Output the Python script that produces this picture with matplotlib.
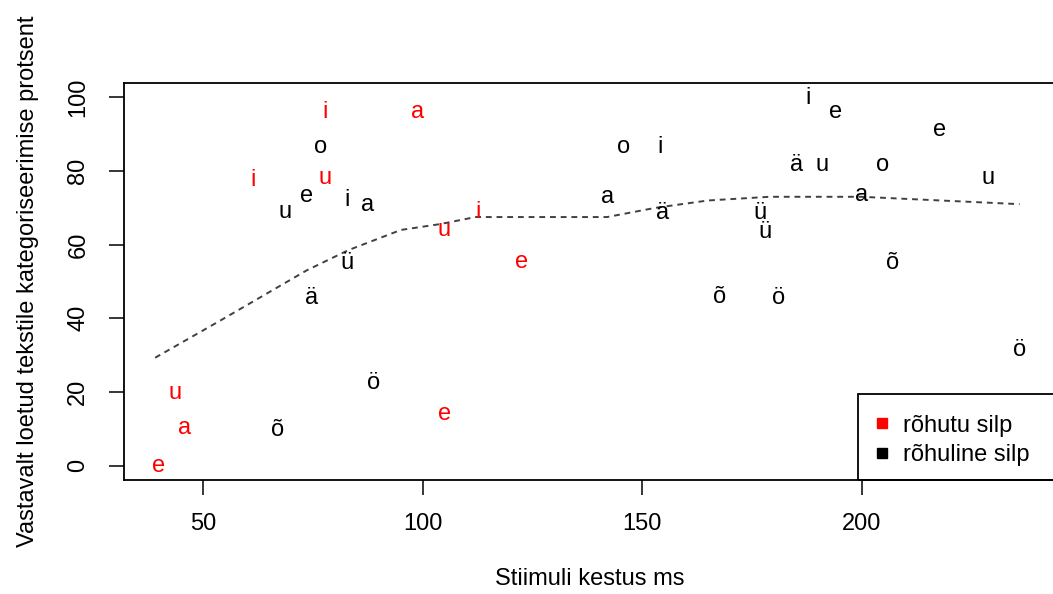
import numpy as np
import matplotlib.pyplot as plt
from matplotlib.lines import Line2D
from matplotlib.patches import Rectangle

plt.rcParams['font.family'] = ['Liberation Sans', 'DejaVu Sans']

# unstressed syllables (red)
red_lbl = ['e', 'a', 'u', 'i', 'i', 'u', 'a', 'u', 'i', 'e', 'e']
red_x = [39.7, 45.8, 43.5, 61.4, 77.7, 77.7, 98.9, 104.9, 112.6, 122.6, 104.9]
red_y = [0.0, 10.2, 19.7, 77.5, 96.0, 78.2, 96.0, 64.0, 68.8, 55.2, 14.0]

# stressed syllables (black)
blk_lbl = ['o', 'u', 'e', 'i', 'a', 'ü', 'ä', 'ö', 'õ', 'a', 'o', 'i', 'ä', 'ü',
           'ü', 'õ', 'ö', 'ö', 'õ', 'i', 'e', 'ä', 'u', 'o', 'e', 'u', 'a']
blk_x = [76.6, 68.6, 73.6, 82.7, 87.5, 82.7, 74.7, 88.7, 66.8, 142.0, 145.7, 154.1, 154.7, 176.8,
         177.9, 167.7, 181.0, 236.1, 207.1, 187.8, 194.0, 185.2, 190.9, 204.8, 217.8, 228.8, 200.1]
blk_y = [86.5, 68.8, 73.1, 72.0, 70.7, 55.0, 45.5, 22.4, 9.6, 72.9, 86.5, 86.5, 68.5, 68.5,
         63.4, 45.8, 45.5, 31.3, 55.0, 99.7, 96.0, 81.6, 81.6, 81.6, 91.1, 78.1, 73.4]

# smoothed trend (dashed)
fit_x = [39, 54, 73.5, 83, 95, 104, 112, 142, 153, 165, 179, 200, 236]
fit_y = [29.3, 39.5, 53, 58.5, 64, 65.6, 67.5, 67.5, 70, 72, 73, 73, 71]

FS = 17

fig = plt.figure(figsize=(10.53, 5.94), dpi=100)
ax = fig.add_axes([124/1053, 114/594, 932/1053, 397/594])

for l, x, y in zip(red_lbl, red_x, red_y):
    ax.text(x, y, l, color='red', fontsize=FS, ha='center', va='center')
for l, x, y in zip(blk_lbl, blk_x, blk_y):
    ax.text(x, y, l, color='black', fontsize=FS, ha='center', va='center')

ax.plot(fit_x, fit_y, color='#404040', lw=1.4, dashes=(3, 2.5))

ax.set_xlim(31.9, 244.3)
ax.set_ylim(-3.9, 103.9)
ax.set_xticks([50, 100, 150, 200])
ax.set_yticks([0, 20, 40, 60, 80, 100])
ax.tick_params(length=11, width=1.1, labelsize=FS)
ax.tick_params(axis='x', pad=12.5)
ax.tick_params(axis='y', labelrotation=90, pad=14)
for t in ax.get_yticklabels():
    t.set_va('center')
for s in ax.spines.values():
    s.set_linewidth(1.3)

ax.set_xlabel('Stiimuli kestus ms', fontsize=FS)
ax.set_ylabel('Vastavalt loetud tekstile kategoriseerimise protsent', fontsize=FS)
ax.xaxis.set_label_coords(0.5, -0.222)
ax.yaxis.set_label_coords(-0.091, 0.5)

# legend box, runs off the right edge like the original
ax.add_patch(Rectangle(((858-124)/932, 0), 0.3, (480-394)/397, transform=ax.transAxes,
                       fill=False, edgecolor='black', lw=1.3, clip_on=False))
handles = [Line2D([], [], ls='none', marker='s', color='red', markersize=7.5),
           Line2D([], [], ls='none', marker='s', color='black', markersize=7.5)]
ax.legend(handles, ['rõhutu silp', 'rõhuline silp'], loc='upper left',
          bbox_to_anchor=((858-124)/932, (480-397)/397), frameon=False,
          fontsize=FS, borderpad=0.75, handlelength=0.5, handletextpad=0.65,
          labelspacing=0.32, borderaxespad=0)

fig.savefig('out.png', dpi=100)
